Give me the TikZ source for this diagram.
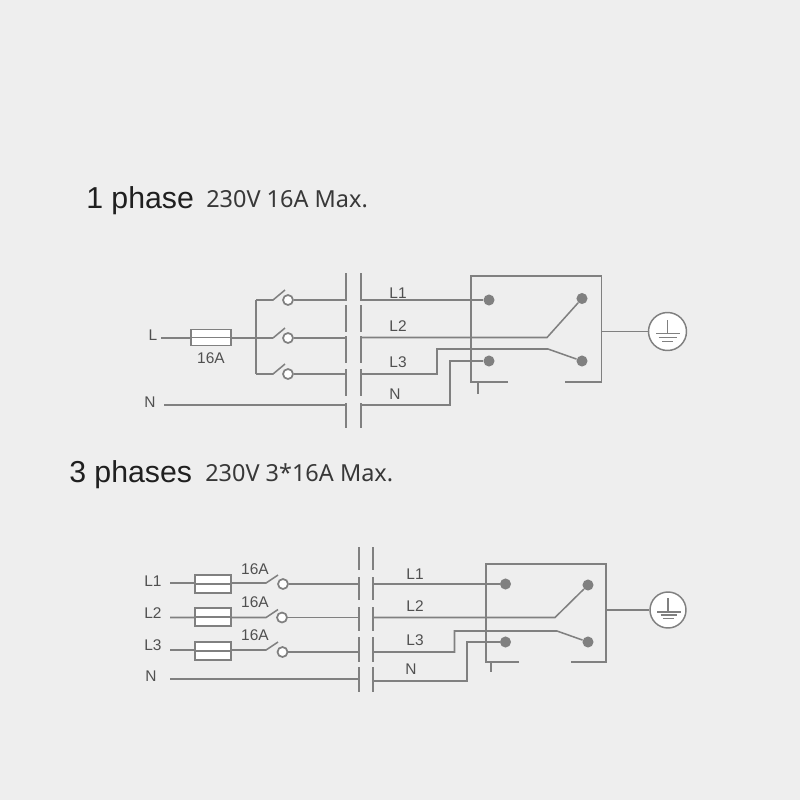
\documentclass[tikz,border=0pt]{standalone}
\usepackage{fontspec}
\setmainfont{Liberation Sans}
\newfontfamily\titlefont{Noto Sans}
\definecolor{wirecol}{HTML}{808080}
\definecolor{labelcol}{HTML}{505050}
\definecolor{paper}{HTML}{EEEEEE}
\tikzset{
	wire/.style={draw=wirecol,line width=1.15pt},
	thinwire/.style={draw=wirecol,line width=0.9pt},
	fuse/.style={draw=wirecol,fill=white,line width=1.3pt,minimum width=30pt,minimum height=12pt,inner sep=0pt},
	contact/.style={circle,draw=wirecol,fill=white,line width=1.3pt,minimum size=7.5pt,inner sep=0pt},
	term/.style={circle,fill=wirecol,minimum size=8.3pt,inner sep=0pt},
	earth/.style={circle,draw=wirecol,fill=white,line width=1.1pt,inner sep=0pt},
	lbl/.style={text=labelcol,font=\fontsize{11.6}{13}\selectfont,inner sep=0pt},
	bigtitle/.style={font=\fontsize{22.7}{26}\selectfont,text=black!88,inner sep=0pt,anchor=base west},
	subtitle/.style={font=\titlefont\fontsize{17.6}{20}\selectfont,text=black!78,inner sep=0pt,anchor=base west}
}
\begin{document}
\begin{tikzpicture}[x=0.75pt,y=-0.75pt]
	\fill[paper] (0,0) rectangle (800,800);
	\useasboundingbox (0,0) rectangle (800,800);
	% titles
	\node[bigtitle] (titleA) at (86,208) {1 phase};
	\node[subtitle] (subA) at (206,207) {230V 16A Max.};
	\node[bigtitle] (titleB) at (69,482) {3 phases};
	\node[subtitle] (subB) at (205,481) {230V 3*16A Max.};

	% 1 phase, left half
	\node[lbl] (aL) at (153,335) {L};
	\node[lbl] (aN) at (150,402) {N};
	\coordinate (aLin) at (161,338);
	\coordinate (aNin) at (164,405);
	\coordinate (aJoin) at (256,338);
	\coordinate (aBusT) at (256,300);
	\coordinate (aBusB) at (256,374);
	\coordinate (aSwA) at (273,300);
	\coordinate (aSwB) at (273,338);
	\coordinate (aSwC) at (273,374);
	\coordinate (aBarA) at (346,300);
	\coordinate (aBarB) at (346,338);
	\coordinate (aBarC) at (346,374);
	\coordinate (aBarN) at (346,405);
	\draw[wire] (aLin) -- (aJoin) -- (aSwB);
	\node[fuse] (aFuse) at (211,337.5) {};
	\draw[wire] (aFuse.west) -- (aFuse.east);
	\node[lbl] (aRate) at (211,358) {16A};
	\draw[wire] (aBusT) -- (aBusB);
	\draw[wire] (aBusT) -- (aSwA) -- ++(12,-10);
	\draw[wire] (aSwB) -- ++(12,-10);
	\draw[wire] (aBusB) -- (aSwC) -- ++(12,-10);
	\node[contact] (aConA) at (288,300) {};
	\node[contact] (aConB) at (288,338) {};
	\node[contact] (aConC) at (288,374) {};
	\draw[wire] (aConA) -- (aBarA);
	\draw[wire] (aConB) -- (aBarB);
	\draw[wire] (aConC) -- (aBarC);
	\draw[wire] (aNin) -- (aBarN);
	% breaker bars
	\foreach \xb in {346,361} {
		\foreach \ya/\yb in {273/301,305/332,336/363,369/396,403/428} {
			\draw[wire] (\xb,\ya) -- (\xb,\yb);
		}
	}

	% 1 phase, right half
	\coordinate (aOutA) at (361,300);
	\coordinate (aOutB) at (361,337.5);
	\coordinate (aOutC) at (361,374);
	\coordinate (aOutN) at (361,405);
	\node[lbl] (aLblA) at (398,293) {L1};
	\node[lbl] (aLblB) at (398,326) {L2};
	\node[lbl] (aLblC) at (398,362) {L3};
	\node[lbl] (aLblN) at (395,394) {N};
	\draw[wire,line width=1.3pt] (508,382) -- (471,382) -- (471,276) -- (601.5,276) -- (601.5,382) -- (565,382);
	\draw[thinwire] (478,382) -- (478,394);
	\node[term] (aTermA) at (489,300) {};
	\node[term] (aTermB) at (582,298.5) {};
	\node[term] (aTermC) at (489,361) {};
	\node[term] (aTermD) at (582,361) {};
	\draw[wire] (aOutA) -- (aTermA);
	\draw[wire] (aOutB) -- (547,337.5) -- (aTermB);
	\draw[wire] (aOutC) -- (437,374) -- (437,349) -- (548,349) -- (aTermD);
	\draw[wire] (aOutN) -- (450,405) -- (450,361) -- (aTermC);
	\node[earth,minimum size=28.5pt] (aEarth) at (667.5,331.5) {};
	\draw[wire] (601.5,331.5) -- (aEarth);
	\draw[thinwire] (667.5,320) -- (667.5,333.5);
	\draw[thinwire] (656,333.5) -- (680,333.5);
	\draw[thinwire] (658.5,337.5) -- (677,337.5);
	\draw[thinwire] (662,341.5) -- (673,341.5);

	% 3 phases, left half
	\node[lbl] (bLA) at (153,581) {L1};
	\node[lbl] (bLB) at (153,613) {L2};
	\node[lbl] (bLC) at (153,645) {L3};
	\node[lbl] (bN) at (151,676) {N};
	\coordinate (bInA) at (170,583);
	\coordinate (bInB) at (170,617.5);
	\coordinate (bInC) at (170,650);
	\coordinate (bInN) at (170,679);
	\coordinate (bSwA) at (266,583);
	\coordinate (bSwB) at (266,617.5);
	\coordinate (bSwC) at (266,650);
	\coordinate (bBarA) at (359,584);
	\coordinate (bBarB) at (359,617.5);
	\coordinate (bBarC) at (359,652);
	\coordinate (bBarN) at (359,679);
	\draw[wire] (bInA) -- (bSwA) -- ++(12,-8);
	\draw[wire] (bInB) -- (bSwB) -- ++(12,-8);
	\draw[wire] (bInC) -- (bSwC) -- ++(12,-8);
	\node[fuse,minimum width=27pt,minimum height=13.5pt] (bFuseA) at (213,584) {};
	\node[fuse,minimum width=27pt,minimum height=13.5pt] (bFuseB) at (213,617) {};
	\node[fuse,minimum width=27pt,minimum height=13.5pt] (bFuseC) at (213,651) {};
	\draw[wire] (bFuseA.west) -- (bFuseA.east);
	\draw[wire] (bFuseB.west) -- (bFuseB.east);
	\draw[wire] (bFuseC.west) -- (bFuseC.east);
	\node[lbl] (bRateA) at (255,569) {16A};
	\node[lbl] (bRateB) at (255,602) {16A};
	\node[lbl] (bRateC) at (255,635) {16A};
	\node[contact] (bConA) at (283,584) {};
	\node[contact] (bConB) at (282,617.5) {};
	\node[contact] (bConC) at (282.5,652) {};
	\draw[wire] (bConA) -- (bBarA);
	\draw[wire] (bConB) -- (bBarB);
	\draw[wire] (bConC) -- (bBarC);
	\draw[wire] (bInN) -- (bBarN);
	% breaker bars
	\foreach \xb in {359,373} {
		\foreach \ya/\yb in {547/570,577/600,607/631,637/662,667/692} {
			\draw[wire] (\xb,\ya) -- (\xb,\yb);
		}
	}

	% 3 phases, right half
	\coordinate (bOutA) at (373,584);
	\coordinate (bOutB) at (373,617.5);
	\coordinate (bOutC) at (373,652);
	\coordinate (bOutN) at (373,681);
	\node[lbl] (bLblA) at (415,574) {L1};
	\node[lbl] (bLblB) at (415,606) {L2};
	\node[lbl] (bLblC) at (415,640) {L3};
	\node[lbl] (bLblN) at (411,669) {N};
	\draw[wire,line width=1.3pt] (519,662) -- (486,662) -- (486,564) -- (606,564) -- (606,662) -- (571,662);
	\draw[thinwire] (491,662) -- (491,672);
	\node[term] (bTermA) at (505.5,584) {};
	\node[term] (bTermB) at (588,585) {};
	\node[term] (bTermC) at (505.5,642) {};
	\node[term] (bTermD) at (588,642) {};
	\draw[wire] (bOutA) -- (bTermA);
	\draw[wire] (bOutB) -- (555,617.5) -- (bTermB);
	\draw[wire] (bOutC) -- (454.5,652) -- (454.5,631) -- (557,631) -- (bTermD);
	\draw[wire] (bOutN) -- (467,681) -- (467,642) -- (bTermC);
	\node[earth,minimum size=27pt] (bEarth) at (668,610) {};
	\draw[wire] (606,610) -- (bEarth);
	\draw[thinwire] (668,598) -- (668,612);
	\draw[thinwire] (657,612) -- (680.5,612);
	\draw[thinwire] (660.5,615) -- (677,615);
	\draw[thinwire] (663,618.5) -- (674,618.5);
\end{tikzpicture}
\end{document}
